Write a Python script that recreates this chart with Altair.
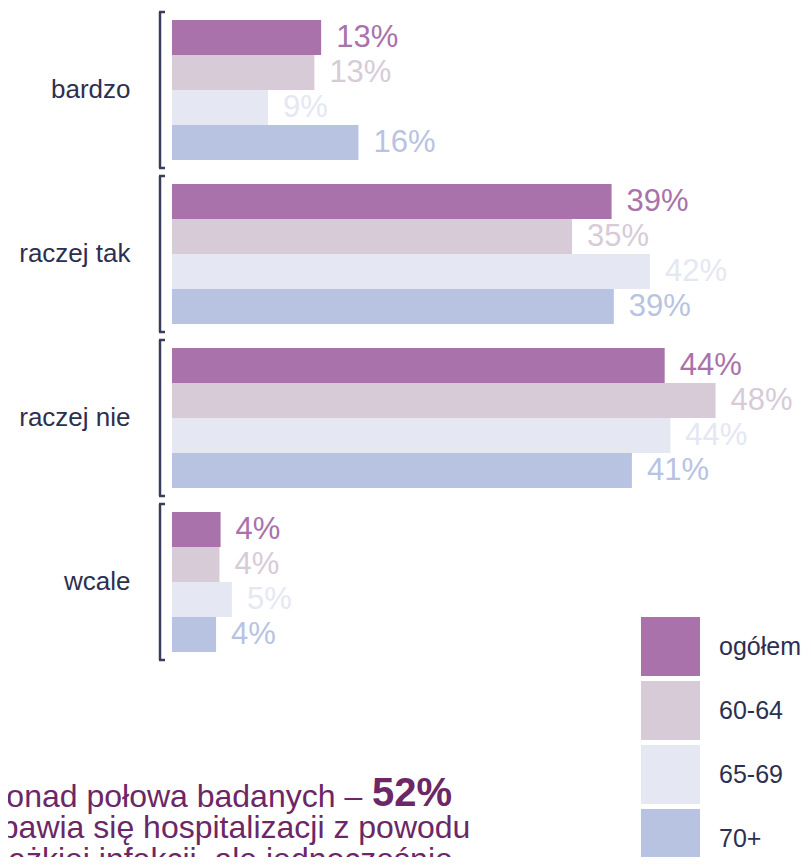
import altair as alt
import pandas as pd

categories = ["bardzo", "raczej tak", "raczej nie", "wcale"]
series = ["ogółem", "60-64", "65-69", "70+"]
colors = ["#a972ab", "#d7cbd8", "#e5e7f2", "#b8c3e2"]

values = {
    "ogółem": [13.2, 38.9, 43.6, 4.3],
    "60-64": [12.6, 35.4, 48.1, 4.2],
    "65-69": [8.5, 42.3, 44.1, 5.3],
    "70+": [16.5, 39.1, 40.7, 3.9],
}
labels = {
    "ogółem": ["13%", "39%", "44%", "4%"],
    "60-64": ["13%", "35%", "48%", "4%"],
    "65-69": ["9%", "42%", "44%", "5%"],
    "70+": ["16%", "39%", "41%", "4%"],
}

line1 = "Ponad połowa badanych –"
line1_bold = "52%"
line2 = "obawia się hospitalizacji z powodu"
line3 = "ciężkiej infekcji, ale jednocześnie"

rows = []
for s in series:
    for c, v, l in zip(categories, values[s], labels[s]):
        rows.append({"cat": c, "series": s, "value": v, "label": l})
df = pd.DataFrame(rows)
cat_df = pd.DataFrame({"cat": categories})

FONT = "Liberation Sans"
DARK = "#2d2f4f"
PURPLE = "#6b2766"

y_scale = alt.Scale(domain=categories, paddingInner=24 / 164, paddingOuter=0)
color_scale = alt.Scale(domain=series, range=colors)

base = alt.Chart(df)

bars = base.mark_bar().encode(
    x=alt.X("value:Q", scale=alt.Scale(domain=[0, 50]), axis=None),
    y=alt.Y("cat:N", scale=y_scale, sort=categories,
            axis=alt.Axis(title=None, domain=False, ticks=False, labelPadding=42,
                          labelFontSize=26, labelFont=FONT, labelColor=DARK)),
    yOffset=alt.YOffset("series:N", sort=series,
                        scale=alt.Scale(domain=series, paddingInner=0, paddingOuter=0)),
    color=alt.Color("series:N", scale=color_scale, sort=series,
                    legend=alt.Legend(title=None, orient="none", legendX=469, legendY=597,
                                      symbolType="square", symbolSize=3481,
                                      symbolStrokeWidth=0, labelFontSize=25,
                                      labelFont=FONT, labelColor=DARK, labelOffset=19,
                                      rowPadding=5, padding=0)),
)

texts = base.mark_text(align="left", baseline="middle", dx=15, fontSize=31, font=FONT).encode(
    x=alt.X("value:Q"),
    y=alt.Y("cat:N", sort=categories),
    yOffset=alt.YOffset("series:N", sort=series),
    color=alt.Color("series:N", scale=color_scale, sort=series),
    text="label:N",
)

bracket_v = alt.Chart(cat_df).mark_rule(color="#3a3c5c", strokeWidth=2.5, yOffset=-8, y2Offset=8).encode(
    x=alt.value(-12),
    y=alt.Y("cat:N", sort=categories, bandPosition=0),
    y2=alt.Y2("cat:N", bandPosition=1),
)
bracket_top = alt.Chart(cat_df).mark_rule(color="#3a3c5c", strokeWidth=2.5, yOffset=-8).encode(
    x=alt.value(-13), x2=alt.value(-7),
    y=alt.Y("cat:N", sort=categories, bandPosition=0),
)
bracket_bot = alt.Chart(cat_df).mark_rule(color="#3a3c5c", strokeWidth=2.5, yOffset=8).encode(
    x=alt.value(-13), x2=alt.value(-7),
    y=alt.Y("cat:N", sort=categories, bandPosition=1),
)

note_df = pd.DataFrame({"t": [0]})
def note(text, x, y, size, bold=False, align="left"):
    return alt.Chart(note_df).mark_text(
        text=text, align=align, baseline="alphabetic", fontSize=size, font=FONT,
        fontWeight="bold" if bold else "normal", color=PURPLE,
    ).encode(x=alt.value(x), y=alt.value(y))

notes = (
    note(line1, -187, 787, 32)
    + note(line1_bold, 200, 786, 40, bold=True)
    + note(line2, -189, 818, 32)
    + note(line3, -187, 850, 32)
)

chart = alt.layer(bars, texts, bracket_v, bracket_top, bracket_bot, notes).properties(
    width=565, height=632,
    autosize=alt.AutoSizeParams(type="none"),
    padding={"left": 164, "top": 12, "right": 66, "bottom": 205},
).configure_view(strokeWidth=0)

chart.save("out.html", embed_options={"renderer": "svg", "actions": False})
